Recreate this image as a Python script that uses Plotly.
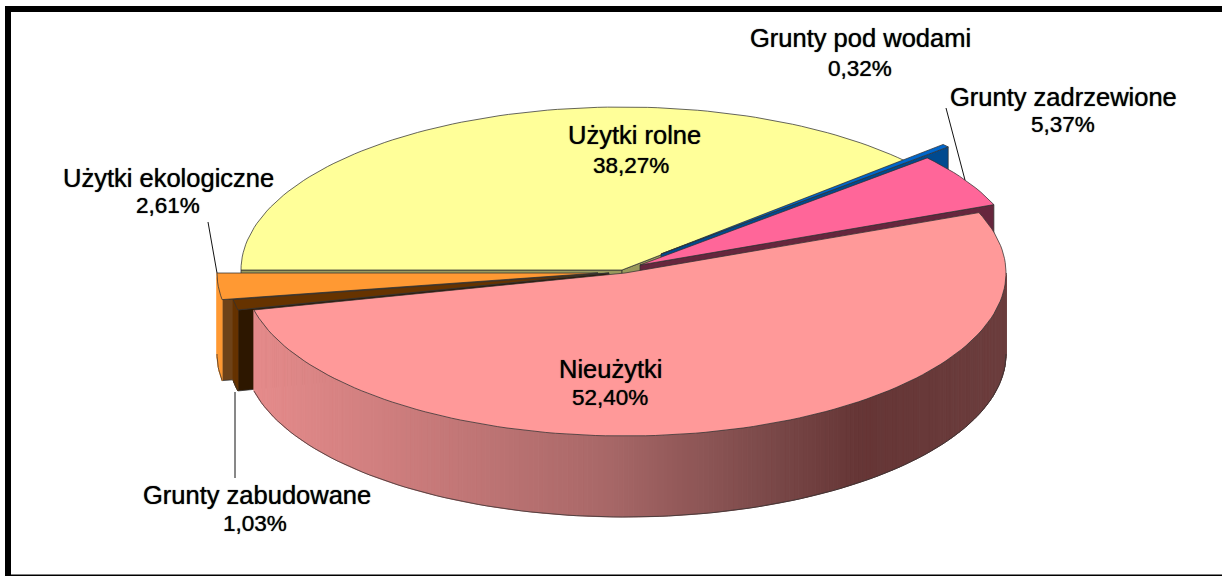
import math
import plotly.graph_objects as go

# ---- data ----
labels = ["Użytki rolne", "Grunty pod wodami", "Grunty zadrzewione", "Nieużytki", "Grunty zabudowane", "Użytki ekologiczne"]
values = [38.27, 0.32, 5.37, 52.40, 1.03, 2.61]
top_colors = ["#FFFF99", "#0066CC", "#FF6699", "#FF9999", "#663300", "#FF9933"]
cut_colors = ["#99995C", "#004A8F", "#66263D", "#663C3C", "#2D1700", "#6E4218"]
apex_x = [622, 661, 640, 625, 609, 598]
apex_y = [270, 254, 265, 273, 273, 273]
name_x = [634, 860, 1063, 610, 257, 168]
name_y = [135, 38, 97, 369, 495, 178]
pct_x = [631, 860, 1063, 610, 255, 168]
pct_y = [165, 68, 124, 397, 523, 205]
rim_stops = [(250, (230, 140, 140)), (400, (205, 125, 125)), (600, (170, 105, 105)),
             (760, (125, 75, 75)), (860, (102, 54, 54)), (1006, (108, 62, 62))]

RX, RY, DEPTH, START = 381, 163, 81, 270


def pt(i, th):
    r = math.radians(th)
    return apex_x[i] + RX * math.sin(r), apex_y[i] - RY * math.cos(r)


def arc(i, a, b, n):
    return [pt(i, a + (b - a) * k / n) for k in range(n + 1)]


def poly(points, fill, line=None, w=1):
    xs = [p[0] for p in points] + [points[0][0]]
    ys = [p[1] for p in points] + [points[0][1]]
    return go.Scatter(x=xs, y=ys, mode="lines", fill="toself", fillcolor=fill,
                      line=dict(color=line or fill, width=w), hoverinfo="skip", showlegend=False)


def down(points):
    return [(x, y + DEPTH) for x, y in points]


def rim_color(x):
    for (x0, c0), (x1, c1) in zip(rim_stops, rim_stops[1:]):
        if x <= x1:
            t = max(0, (x - x0) / (x1 - x0))
            return "rgb(%d,%d,%d)" % tuple(c0[k] + (c1[k] - c0[k]) * t for k in range(3))
    return "rgb(108,62,62)"


bounds = []
a = START
for v in values:
    bounds.append((a, a + v * 3.6))
    a += v * 3.6

EDGE = "rgba(50,50,50,0.75)"
fig = go.Figure()
rim_fill = {4: "#663300", 5: "#FF9933"}
for i in [0, 1, 2, 5, 4, 3]:
    a, b = bounds[i]
    apex = (apex_x[i], apex_y[i])
    # cut faces turned towards the viewer
    cuts = {0: [a, b], 1: [b], 2: [b], 4: [a], 5: [a]}.get(i, [])
    for th in cuts:
        o = pt(i, th)
        fig.add_trace(poly([apex, o, (o[0], o[1] + DEPTH), (apex[0], apex[1] + DEPTH)], cut_colors[i], EDGE))
    # front rim
    lo, hi = a, b
    if i == 3:
        lo = 450
    if i in (3, 4, 5):
        n = 220 if i == 3 else 6
        for k in range(n):
            t0, t1 = lo + (hi - lo) * k / n, lo + (hi - lo) * (k + 1) / n
            q = arc(i, t0, t1, 2)
            fill = rim_color(q[1][0]) if i == 3 else rim_fill[i]
            fig.add_trace(poly(q + down(q)[::-1], fill))
        q = arc(i, lo, hi, 120 if i == 3 else 12)
        fig.add_trace(go.Scatter(x=[p[0] for p in q], y=[p[1] + DEPTH for p in q], mode="lines",
                                 line=dict(color=EDGE, width=1), hoverinfo="skip", showlegend=False))
    # top surface
    n = max(4, int((b - a) / 1.5))
    fig.add_trace(poly([apex] + arc(i, a, b, n), top_colors[i], EDGE))

# leader lines
lead_x = [[946, 965], [208, 217], [235, 235]]
lead_y = [[108, 180], [222, 273], [392, 478]]
for lx, ly in zip(lead_x, lead_y):
    fig.add_trace(go.Scatter(x=lx, y=ly, mode="lines", line=dict(color="#111111", width=1),
                             hoverinfo="skip", showlegend=False))

for i in range(6):
    fig.add_annotation(x=name_x[i], y=name_y[i], xref="x", yref="y", showarrow=False, text=labels[i],
                       font=dict(family="Liberation Sans", size=25.5, color="#000000", shadow="0 0 1px #222"))
    fig.add_annotation(x=pct_x[i], y=pct_y[i], xref="x", yref="y", showarrow=False,
                       text=("%.2f" % values[i]).replace(".", ",") + "%",
                       font=dict(family="Liberation Sans", size=22.5, color="#000000", shadow="0 0 1px #222"))

fig.update_layout(
    width=1222, height=576, autosize=False, margin=dict(l=0, r=0, t=0, b=0),
    paper_bgcolor="white", plot_bgcolor="white", showlegend=False,
    xaxis=dict(range=[0, 1222], visible=False, fixedrange=True),
    yaxis=dict(range=[576, 0], visible=False, fixedrange=True),
    shapes=[
        dict(type="rect", x0=5, x1=11, y0=6, y1=576, fillcolor="black", line_width=0, layer="above"),
        dict(type="rect", x0=5, x1=1222, y0=6, y1=12, fillcolor="black", line_width=0, layer="above"),
        dict(type="rect", x0=5, x1=1222, y0=574.5, y1=576, fillcolor="black", line_width=0, layer="above"),
    ],
)
fig.write_html("out.html", config=dict(displayModeBar=False),
               post_script="document.body.style.margin='0';document.body.style.overflow='hidden';")
